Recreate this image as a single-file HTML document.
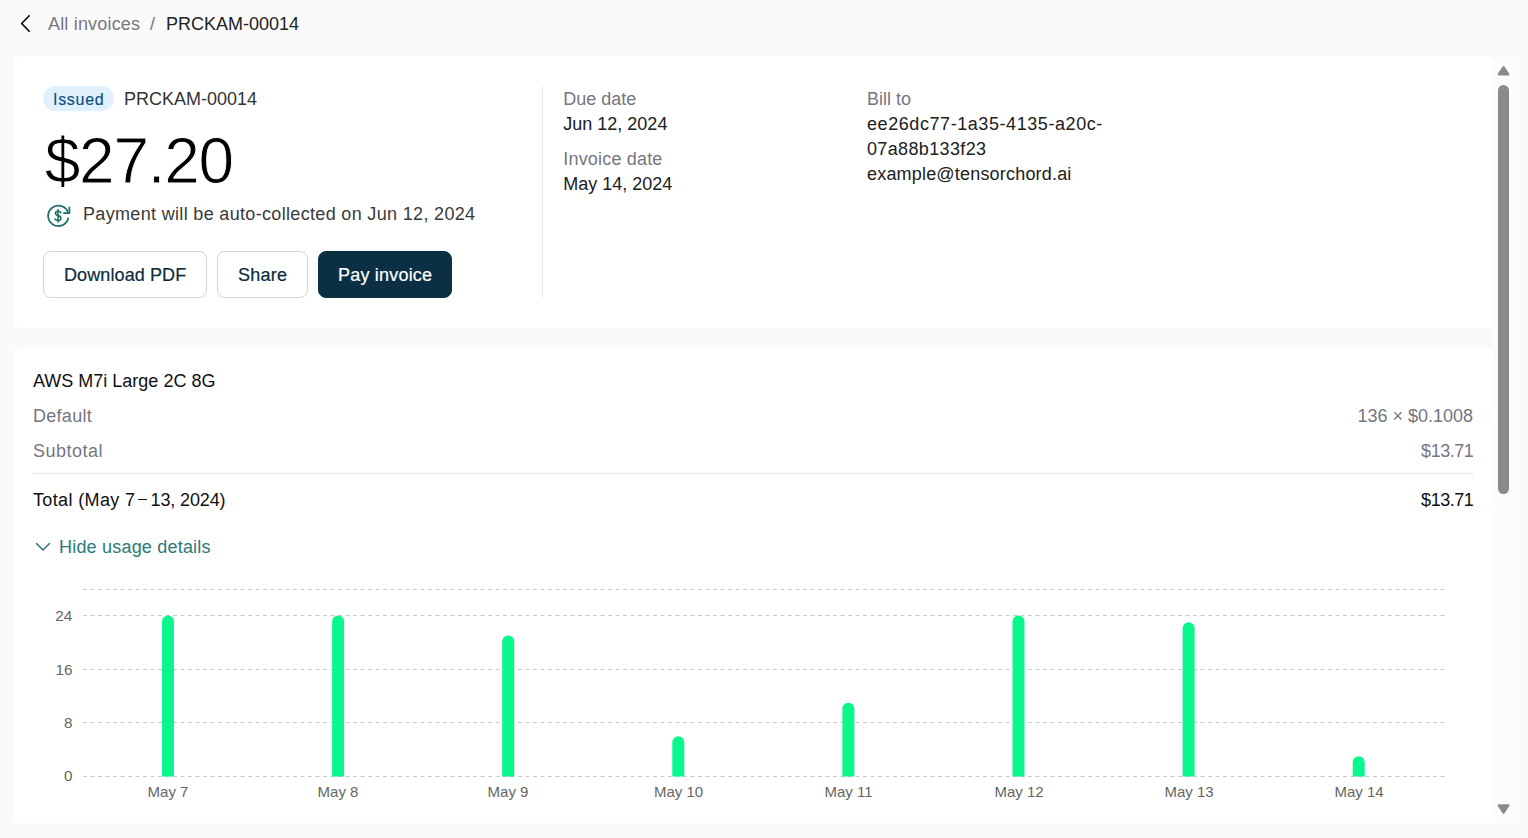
<!DOCTYPE html>
<html><head><meta charset="utf-8">
<style>
*{box-sizing:border-box;margin:0;padding:0}
html,body{width:1528px;height:838px;overflow:hidden;background:#fafafa;font-family:"Liberation Sans",sans-serif;}
.a{position:absolute;white-space:pre;line-height:20px;height:20px}
.card{position:absolute;background:#fff;border-radius:8px}
.lbl{color:#76767f}
.val{color:#202020}
.btn{position:absolute;top:251px;height:47px;border:1px solid #d5d5d5;border-radius:8px;background:#fff}
.bt{-webkit-text-stroke:0.2px currentColor}
</style></head><body>
<!-- breadcrumb -->
<svg style="position:absolute;left:0;top:0" width="40" height="48"><path d="M29.2 15.8 L21.7 23.5 L29.2 31.2" fill="none" stroke="#000" stroke-width="1.6" stroke-linecap="round" stroke-linejoin="round"/></svg>
<div class="a" style="left:48px;top:14px;font-size:18px;color:#77777f;letter-spacing:0.18px">All invoices</div>
<div class="a" style="left:150px;top:14px;font-size:18px;color:#77777f">/</div>
<div class="a" style="left:166px;top:14px;font-size:18px;color:#222">PRCKAM-00014</div>

<!-- card 1 -->
<div class="card" style="left:13px;top:56px;width:1481px;height:272px"></div>
<div style="position:absolute;left:43px;top:86px;width:71px;height:25px;border-radius:13px;background:#e0f0fc"></div>
<div class="a" style="left:53px;top:90px;font-size:16px;color:#0b4f86;letter-spacing:0.7px;-webkit-text-stroke:0.15px #0b4f86">Issued</div>
<div class="a" style="left:124px;top:89px;font-size:18px;color:#333">PRCKAM-00014</div>
<div class="a" style="left:44.7px;top:126px;font-size:64px;line-height:70px;height:70px;color:#000;letter-spacing:-1.25px;-webkit-text-stroke:0.9px #fff">$27.20</div>
<svg style="position:absolute;left:0;top:0" width="80" height="240" viewBox="0 0 80 240">
 <path d="M68.2 218.4 A10.2 10.2 0 1 1 67.8 212.0" fill="none" stroke="#1f6f6b" stroke-width="1.8" stroke-linecap="round"/>
 <path d="M69.4 207.5 V213.2 H64" fill="none" stroke="#1f6f6b" stroke-width="1.8" stroke-linecap="round" stroke-linejoin="round"/>
 <path d="M58 209.8 V222 M60.9 212.6 C60.5 211.6 59.5 211.2 58 211.2 C56.4 211.2 55.4 212 55.4 213.3 C55.4 214.7 56.6 215.2 58 215.6 C59.6 216 60.9 216.6 60.9 218.2 C60.9 219.6 59.7 220.5 58 220.5 C56.5 220.5 55.4 219.9 55 219" fill="none" stroke="#1f6f6b" stroke-width="1.6" stroke-linecap="round"/>
</svg>
<div class="a" style="left:83px;top:204px;font-size:18px;color:#3a3a3a;letter-spacing:0.33px">Payment will be auto-collected on Jun 12, 2024</div>
<div class="btn" style="left:43px;width:164px"></div>
<div class="a bt" style="left:64px;top:265px;font-size:18px;color:#0c2b3c;letter-spacing:0.1px">Download PDF</div>
<div class="btn" style="left:217px;width:91px"></div>
<div class="a bt" style="left:238px;top:265px;font-size:18px;color:#0c2b3c;letter-spacing:0.25px">Share</div>
<div class="btn" style="left:318px;width:134px;background:#0b3043;border-color:#0b3043"></div>
<div class="a bt" style="left:338px;top:265px;font-size:18px;color:#fff;letter-spacing:0.2px">Pay invoice</div>
<div style="position:absolute;left:542px;top:86px;width:1px;height:212px;background:#ececec"></div>

<div class="a lbl" style="left:563.3px;top:89px;font-size:18px">Due date</div>
<div class="a val" style="left:563.3px;top:114px;font-size:18px">Jun 12, 2024</div>
<div class="a lbl" style="left:563.3px;top:149px;font-size:18px;letter-spacing:0.18px">Invoice date</div>
<div class="a val" style="left:563.3px;top:174px;font-size:18px">May 14, 2024</div>

<div class="a lbl" style="left:867px;top:89px;font-size:18px">Bill to</div>
<div class="a val" style="left:867px;top:114px;font-size:18px;letter-spacing:0.57px">ee26dc77-1a35-4135-a20c-</div>
<div class="a val" style="left:867px;top:139px;font-size:18px;letter-spacing:0.36px">07a88b133f23</div>
<div class="a val" style="left:867px;top:164px;font-size:18px;letter-spacing:0.19px">example@tensorchord.ai</div>

<!-- card 2 -->
<div class="card" style="left:13px;top:348px;width:1481px;height:500px"></div>
<div class="a val" style="left:33px;top:371px;font-size:18px;color:#111">AWS M7i Large 2C 8G</div>
<div class="a lbl" style="left:33px;top:406px;font-size:18px;letter-spacing:0.28px">Default</div>
<div class="a lbl" style="left:33px;top:441px;font-size:18px;letter-spacing:0.5px">Subtotal</div>
<div class="a lbl" style="right:55px;top:406px;font-size:18px">136 × $0.1008</div>
<div class="a lbl" style="right:55px;top:441px;font-size:18px;letter-spacing:-0.45px;margin-right:-0.45px">$13.71</div>
<div style="position:absolute;left:33px;top:473px;width:1441px;height:1px;background:#e8e8e8"></div>
<div class="a" style="left:33px;top:490px;font-size:18px;color:#111;letter-spacing:0.36px">Total (May 7</div><div style="position:absolute;left:138px;top:498.5px;width:9px;height:1.5px;background:#1a1a1a"></div><div class="a" style="left:150.5px;top:490px;font-size:18px;color:#111;letter-spacing:-0.12px">13, 2024)</div>
<div class="a" style="right:55px;top:490px;font-size:18px;color:#111;letter-spacing:-0.45px;margin-right:-0.45px">$13.71</div>
<svg style="position:absolute;left:30px;top:536px" width="24" height="20"><path d="M36.5 543.5 L43 550 L49.5 543.5" transform="translate(-30,-536)" fill="none" stroke="#2a7a7a" stroke-width="1.5" stroke-linecap="round" stroke-linejoin="round"/></svg>
<div class="a" style="left:59px;top:537px;font-size:18px;color:#2a7a7a;letter-spacing:0.2px">Hide usage details</div>

<!-- chart -->
<svg style="position:absolute;left:0;top:570px" width="1528" height="240" viewBox="0 570 1528 240">
 <g stroke="#c9c9c9" stroke-width="1" stroke-dasharray="4 3.5">
  <line x1="83" y1="589.5" x2="1445" y2="589.5"/>
  <line x1="83" y1="615.5" x2="1445" y2="615.5"/>
  <line x1="83" y1="669.5" x2="1445" y2="669.5"/>
  <line x1="83" y1="722.5" x2="1445" y2="722.5"/>
  <line x1="83" y1="776.5" x2="1445" y2="776.5"/>
 </g>
 <g font-family="Liberation Sans" font-size="15.3" fill="#666" text-anchor="end">
  <text x="72.3" y="621">24</text>
  <text x="72.5" y="675">16</text>
  <text x="72.5" y="727.8">8</text>
  <text x="72.5" y="781.3">0</text>
 </g>
 <g fill="#0af78e">
  <path d="M162.00 776.4 L162.00 621.50 A6 6 0 0 1 174.00 621.50 L174.00 776.4 Z"/>
  <path d="M332.10 776.4 L332.10 621.50 A6 6 0 0 1 344.10 621.50 L344.10 776.4 Z"/>
  <path d="M502.20 776.4 L502.20 641.61 A6 6 0 0 1 514.20 641.61 L514.20 776.4 Z"/>
  <path d="M672.30 776.4 L672.30 742.17 A6 6 0 0 1 684.30 742.17 L684.30 776.4 Z"/>
  <path d="M842.40 776.4 L842.40 708.65 A6 6 0 0 1 854.40 708.65 L854.40 776.4 Z"/>
  <path d="M1012.50 776.4 L1012.50 621.50 A6 6 0 0 1 1024.50 621.50 L1024.50 776.4 Z"/>
  <path d="M1182.60 776.4 L1182.60 628.20 A6 6 0 0 1 1194.60 628.20 L1194.60 776.4 Z"/>
  <path d="M1352.70 776.4 L1352.70 762.29 A6 6 0 0 1 1364.70 762.29 L1364.70 776.4 Z"/>
 </g>
 <g font-family="Liberation Sans" font-size="15" fill="#666" text-anchor="middle">
  <text x="168" y="797">May 7</text>
  <text x="338" y="797">May 8</text>
  <text x="508" y="797">May 9</text>
  <text x="678.5" y="797">May 10</text>
  <text x="848.5" y="797">May 11</text>
  <text x="1019" y="797">May 12</text>
  <text x="1189" y="797">May 13</text>
  <text x="1359" y="797">May 14</text>
 </g>
</svg>

<!-- scrollbar -->
<div style="position:absolute;left:1494px;top:56px;width:19px;height:767px;background:#fcfcfc"></div>
<svg style="position:absolute;left:1494px;top:56px" width="19" height="767">
 <path d="M9.55 11.1 L14.4 18.4 L4.7 18.4 Z" fill="#8a8a8a" stroke="#8a8a8a" stroke-width="2.2" stroke-linejoin="round"/>
 <rect x="4" y="29" width="11" height="409" rx="5.5" fill="#8a8a8a"/>
 <path d="M4.7 749.3 L14.4 749.3 L9.55 756.7 Z" fill="#8a8a8a" stroke="#8a8a8a" stroke-width="2.2" stroke-linejoin="round"/>
</svg>
<!-- bottom page strip -->
<div style="position:absolute;left:0;top:823px;width:1528px;height:15px;background:#fafafa"></div>
</body></html>
